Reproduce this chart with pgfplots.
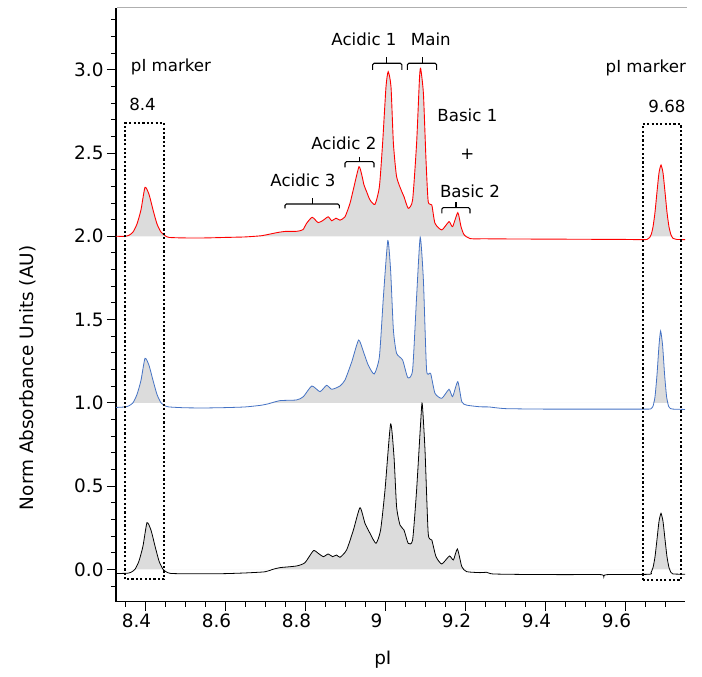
\documentclass[border=0pt]{standalone}
\usepackage{fontspec}
\setmainfont{DejaVu Sans}
\usepackage{pgfplots}
\usepackage{pgfplotstable}
\pgfplotsset{compat=1.18}
\definecolor{fillg}{RGB}{220,220,220}
\definecolor{tblue}{RGB}{68,114,196}
\definecolor{tred}{RGB}{255,0,0}
\definecolor{framegray}{RGB}{175,175,175}

\pgfplotstableread{
x y
8.3275 2.000
8.35 2.000
8.36 2.006
8.37 2.025
8.38 2.074
8.39 2.159
8.40 2.294
8.41 2.252
8.42 2.159
8.43 2.074
8.44 2.025
8.45 2.004
8.46 1.993
8.50 1.990
8.55 1.990
8.60 1.993
8.65 1.996
8.69 2.003
8.71 2.012
8.73 2.022
8.75 2.029
8.78 2.030
8.795 2.040
8.804 2.078
8.818 2.114
8.833 2.082
8.846 2.097
8.858 2.117
8.867 2.093
8.8775 2.109
8.8875 2.097
8.90 2.117
8.9125 2.198
8.9225 2.298
8.935 2.418
8.942 2.368
8.9475 2.308
8.954 2.268
8.9625 2.218
8.975 2.192
8.986 2.298
8.994 2.558
9.0025 2.898
9.008 2.989
9.015 2.898
9.021 2.558
9.029 2.358
9.042 2.268
9.0475 2.238
9.058 2.168
9.069 2.218
9.079 2.558
9.086 2.939
9.089 3.009
9.096 2.859
9.1025 2.458
9.108 2.208
9.117 2.188
9.125 2.078
9.142 2.038
9.16 2.088
9.169 2.058
9.182 2.142
9.19 2.058
9.1975 2.010
9.2125 1.986
9.25 1.985
9.30 1.984
9.40 1.983
9.50 1.982
9.60 1.981
9.655 1.981
9.665 2.008
9.67 2.056
9.675 2.144
9.68 2.267
9.685 2.381
9.69 2.428
9.695 2.381
9.70 2.267
9.705 2.144
9.71 2.056
9.715 2.008
9.72 1.988
9.73 1.981
9.75 1.980
}\redt

\pgfplotstableread{
x y
8.3275 0.972
8.35 0.975
8.36 0.982
8.37 1.000
8.38 1.050
8.39 1.135
8.40 1.267
8.41 1.225
8.42 1.135
8.43 1.050
8.44 1.000
8.45 0.982
8.46 0.975
8.50 0.970
8.55 0.969
8.60 0.971
8.65 0.975
8.69 0.985
8.71 0.995
8.7375 1.013
8.779 1.017
8.796 1.037
8.817 1.101
8.8375 1.067
8.854 1.105
8.867 1.081
8.8875 1.101
8.90 1.137
8.917 1.247
8.934 1.377
8.946 1.307
8.958 1.227
8.973 1.173
8.986 1.277
8.996 1.637
9.007 1.974
9.014 1.797
9.021 1.437
9.029 1.297
9.044 1.257
9.057 1.151
9.069 1.197
9.079 1.637
9.088 1.994
9.096 1.737
9.104 1.197
9.114 1.177
9.125 1.057
9.142 1.027
9.16 1.081
9.169 1.037
9.182 1.127
9.192 1.006
9.204 0.986
9.2375 0.976
9.26 0.975
9.30 0.965
9.40 0.962
9.50 0.962
9.60 0.962
9.66 0.962
9.665 0.965
9.67 0.979
9.675 1.036
9.68 1.169
9.685 1.345
9.689 1.431
9.694 1.345
9.699 1.169
9.704 1.036
9.709 0.979
9.714 0.965
9.72 0.962
9.75 0.960
}\bluet

\pgfplotstableread{
x y
8.3275 -0.025
8.355 -0.024
8.365 -0.018
8.375 0.000
8.385 0.050
8.395 0.140
8.405 0.280
8.415 0.235
8.425 0.140
8.435 0.050
8.445 0.000
8.455 -0.018
8.465 -0.025
8.50 -0.027
8.55 -0.027
8.60 -0.026
8.65 -0.022
8.70 -0.015
8.72 0.000
8.7375 0.010
8.779 0.020
8.80 0.040
8.821 0.112
8.833 0.096
8.846 0.076
8.858 0.092
8.869 0.076
8.879 0.086
8.8875 0.072
8.904 0.116
8.921 0.236
8.9375 0.370
8.95 0.276
8.9625 0.216
8.9775 0.156
8.989 0.236
9.00 0.476
9.014 0.873
9.0225 0.676
9.029 0.376
9.0375 0.266
9.0475 0.236
9.058 0.156
9.069 0.176
9.079 0.476
9.089 0.877
9.093 0.997
9.10 0.717
9.108 0.216
9.117 0.176
9.1275 0.076
9.142 0.032
9.161 0.080
9.171 0.056
9.181 0.122
9.192 0.016
9.204 -0.014
9.2375 -0.020
9.254 -0.018
9.27 -0.028
9.35 -0.031
9.45 -0.032
9.54 -0.032
9.547 -0.045
9.555 -0.032
9.66 -0.030
9.665 -0.019
9.67 0.010
9.675 0.075
9.68 0.180
9.685 0.288
9.69 0.336
9.695 0.288
9.70 0.180
9.705 0.075
9.71 0.010
9.715 -0.019
9.72 -0.028
9.75 -0.030
}\blackt

\begin{document}
\begin{tikzpicture}
\begin{axis}[
  name=ax, at={(0,0)}, anchor=south west,
  scale only axis, width=569bp, height=593.7bp,
  xmin=8.3275, xmax=9.75, ymin=-0.1946, ymax=3.371,
  clip=false,
  axis x line=bottom, axis y line=left,
  axis line style={-, line width=1.1pt, black},
  tick align=outside,
  tick style={black, line width=0.9pt},
  major tick length=9bp, minor tick length=5bp,
  xtick={8.4,8.6,8.8,9.0,9.2,9.4,9.6},
  xticklabels={8.4,8.6,8.8,9,9.2,9.4,9.6},
  minor xtick={8.35,8.45,8.5,8.55,8.65,8.7,8.75,8.85,8.9,8.95,9.05,9.1,9.15,9.25,9.3,9.35,9.45,9.5,9.55,9.65,9.7},
  ytick={0,0.5,1,1.5,2,2.5,3},
  yticklabels={0.0,0.5,1.0,1.5,2.0,2.5,3.0},
  minor ytick={-0.1,0.1,0.2,0.3,0.4,0.6,0.7,0.8,0.9,1.1,1.2,1.3,1.4,1.6,1.7,1.8,1.9,2.1,2.2,2.3,2.4,2.6,2.7,2.8,2.9,3.1,3.2,3.3},
  ticklabel style={font=\fontsize{18.5}{22}\selectfont},
  xticklabel style={xshift=-8.5bp},
  xlabel={pI}, ylabel={Norm Absorbance Units (AU)},
  every axis x label/.style={at={(rel axis cs:0.469,-0.0982)}, anchor=center, font=\fontsize{18.5}{22}\selectfont},
  every axis y label/.style={at={(rel axis cs:-0.1547,0.377)}, rotate=90, anchor=center, font=\fontsize{18.5}{22}\selectfont},
]
% fills (trace clamped at its baseline)
\addplot[fill=fillg, draw=none, smooth, tension=0.35, y filter/.expression={max(y,2)}] table {\redt} -- (axis cs:9.75,2) -- (axis cs:8.3275,2) -- cycle;
\addplot[fill=fillg, draw=none, smooth, tension=0.35, y filter/.expression={max(y,1)}] table {\bluet} -- (axis cs:9.75,1) -- (axis cs:8.3275,1) -- cycle;
\addplot[fill=fillg, draw=none, smooth, tension=0.35, y filter/.expression={max(y,0)}] table {\blackt} -- (axis cs:9.75,0) -- (axis cs:8.3275,0) -- cycle;
% traces
\addplot[tred, line width=0.9pt, smooth, tension=0.35] table {\redt};
\addplot[tblue, line width=0.8pt, smooth, tension=0.35] table {\bluet};
\addplot[black, line width=0.8pt, smooth, tension=0.35] table {\blackt};

% dotted boxes
\draw[line width=2.2pt, dash pattern=on 2.2pt off 2.2pt] (axis cs:8.35,-0.06) rectangle (axis cs:8.448,2.679);
\draw[line width=2.2pt, dash pattern=on 2.2pt off 2.2pt] (axis cs:9.644,-0.064) rectangle (axis cs:9.74,2.673);

% brackets
\draw[line width=1.1pt, rounded corners=1.5pt] (axis cs:8.969,2.999) -- (axis cs:8.969,3.039) -- (axis cs:9.042,3.039) -- (axis cs:9.042,2.999);
\draw[line width=1.1pt] (axis cs:9.0045,3.039) -- (axis cs:9.0045,3.075);
\draw[line width=1.1pt, rounded corners=1.5pt] (axis cs:9.056,2.999) -- (axis cs:9.056,3.039) -- (axis cs:9.129,3.039) -- (axis cs:9.129,2.999);
\draw[line width=1.1pt] (axis cs:9.094,3.039) -- (axis cs:9.094,3.075);
\draw[line width=1.1pt, rounded corners=1.5pt] (axis cs:8.90,2.414) -- (axis cs:8.90,2.448) -- (axis cs:8.9725,2.448) -- (axis cs:8.9725,2.414);
\draw[line width=1.1pt] (axis cs:8.936,2.448) -- (axis cs:8.936,2.478);
\draw[line width=1.1pt, rounded corners=1.5pt] (axis cs:8.75,2.168) -- (axis cs:8.75,2.194) -- (axis cs:8.886,2.194) -- (axis cs:8.886,2.168);
\draw[line width=1.1pt] (axis cs:8.818,2.194) -- (axis cs:8.818,2.228);
\draw[line width=1.1pt, rounded corners=1.5pt] (axis cs:9.142,2.138) -- (axis cs:9.142,2.172) -- (axis cs:9.2125,2.172) -- (axis cs:9.2125,2.138);
\draw[line width=1.1pt] (axis cs:9.1775,2.172) -- (axis cs:9.1775,2.208);

% labels
\begin{scope}[every node/.style={font=\fontsize{16.7}{20}\selectfont, inner sep=0pt}]
\node at (axis cs:8.465,3.019) {pI marker};
\node at (axis cs:8.394,2.789) {8.4};
\node at (axis cs:9.652,3.009) {pI marker};
\node at (axis cs:9.705,2.778) {9.68};
\node at (axis cs:8.9475,3.18) {Acidic 1};
\node at (axis cs:9.1145,3.183) {Main};
\node at (axis cs:9.206,2.724) {Basic 1};
\node at (axis cs:9.206,2.494) {+};
\node at (axis cs:9.2125,2.268) {Basic 2};
\node at (axis cs:8.897,2.558) {Acidic 2};
\node at (axis cs:8.795,2.334) {Acidic 3};
\end{scope}
\end{axis}
\draw[framegray, line width=1pt] ([xshift=1bp]ax.north west) -- ([xshift=2bp]ax.north east);
\path (-116bp,-75.3bp) rectangle (586bp,601.7bp);
\end{tikzpicture}
\end{document}
